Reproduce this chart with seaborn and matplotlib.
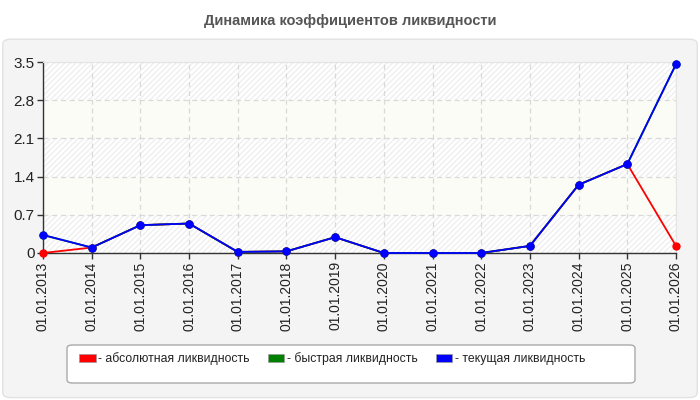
import pandas as pd
import seaborn as sns
import matplotlib
matplotlib.use("Agg")
from matplotlib import pyplot as plt
from matplotlib.patches import FancyBboxPatch, Patch

# data
dates = ["01.01.2013", "01.01.2014", "01.01.2015", "01.01.2016", "01.01.2017",
         "01.01.2018", "01.01.2019", "01.01.2020", "01.01.2021", "01.01.2022",
         "01.01.2023", "01.01.2024", "01.01.2025", "01.01.2026"]
absolute = [0.0, 0.10, 0.51, 0.54, 0.02, 0.03, 0.29, 0.0, 0.0, 0.0, 0.13, 1.25, 1.63, 0.13]
quick = [0.33, 0.10, 0.51, 0.54, 0.02, 0.03, 0.29, 0.0, 0.0, 0.0, 0.13, 1.25, 1.63, 3.46]
current = [0.33, 0.10, 0.51, 0.54, 0.02, 0.03, 0.29, 0.0, 0.0, 0.0, 0.13, 1.25, 1.63, 3.46]
series_names = ["абсолютная ликвидность", "быстрая ликвидность", "текущая ликвидность"]
colors = ["#ff0000", "#008000", "#0000ff"]
yticks = [0, 0.7, 1.4, 2.1, 2.8, 3.5]
ytick_labels = ["0", "0.7", "1.4", "2.1", "2.8", "3.5"]

rows = []
for name, vals in zip(series_names, [absolute, quick, current]):
    for i, v in enumerate(vals):
        rows.append({"pos": i, "value": v, "series": name})
df = pd.DataFrame(rows)

sns.set_style("white")
plt.rcParams["font.family"] = ["Liberation Sans", "DejaVu Sans"]

fig = plt.figure(figsize=(7, 4), dpi=100)
fig.patch.set_facecolor("white")

# grey panel behind the chart
panel = FancyBboxPatch((0.004, 0.006), 0.992, 0.896, boxstyle="round,pad=0,rounding_size=0.012",
                       transform=fig.transFigure, facecolor="#f4f4f4", edgecolor="#e2e2e2",
                       linewidth=1, zorder=-3)
fig.patches.append(panel)

fig.text(0.5, 0.948, "Динамика коэффициентов ликвидности", ha="center", va="center",
         fontsize=10.5, fontweight="bold", color="#555555")

ax = fig.add_axes([0.0614, 0.3675, 0.9043, 0.4775])
ax.set_zorder(2)
ax.set_facecolor("white")

# alternating bands
for k in range(len(yticks) - 1):
    if k % 2 == 0:
        ax.axhspan(yticks[k], yticks[k + 1], facecolor="white", edgecolor="#efefef",
                   hatch="//////", linewidth=0, zorder=0)
    else:
        ax.axhspan(yticks[k], yticks[k + 1], facecolor="#fcfcf6", linewidth=0, zorder=0)

sns.lineplot(data=df, x="pos", y="value", hue="series", hue_order=series_names,
             palette=colors, marker="o", markersize=6, markeredgewidth=0,
             linewidth=1.3, legend=False, ax=ax, zorder=3)

ax.set_xlim(0, len(dates) - 1)
ax.set_ylim(0, 3.5)
ax.set_xticks(range(len(dates)))
ax.set_xticklabels(dates, rotation=90, fontsize=10, color="#222222")
ax.set_yticks(yticks)
ax.set_yticklabels(ytick_labels, fontsize=11, color="#222222")
ax.set_xlabel("")
ax.set_ylabel("")
ax.grid(True, linestyle=(0, (4, 3)), color="#d9d9d9", linewidth=0.9, zorder=1)
ax.set_axisbelow(True)
for s in ["top", "right"]:
    ax.spines[s].set_color("#e4e4e4")
    ax.spines[s].set_linewidth(0.8)
for s in ["left", "bottom"]:
    ax.spines[s].set_color("#333333")
    ax.spines[s].set_linewidth(1)
ax.tick_params(axis="both", which="both", direction="out", length=4, width=1,
               color="#333333", pad=2, left=True, bottom=True)
for ln in ax.lines:
    ln.set_clip_on(False)

# legend box
lbox = FancyBboxPatch((67 / 700, 1 - 383 / 400), 568 / 700, 38 / 400,
                      boxstyle="round,pad=0,rounding_size=0.008",
                      transform=fig.transFigure, facecolor="white", edgecolor="#aaaaaa",
                      linewidth=1, zorder=-1)
fig.patches.append(lbox)
handles = [Patch(facecolor=c, edgecolor="#999999", linewidth=0.5, label="- " + n)
           for c, n in zip(colors, series_names)]
fig.legend(handles=handles, loc="center left", bbox_to_anchor=(68 / 700, 1 - 359 / 400),
           ncol=3, frameon=False, fontsize=8.8, handlelength=1.35, handleheight=0.6,
           handletextpad=0.2, columnspacing=1.5, labelcolor="#222222")

fig.savefig("out.png", dpi=100, facecolor="white")
